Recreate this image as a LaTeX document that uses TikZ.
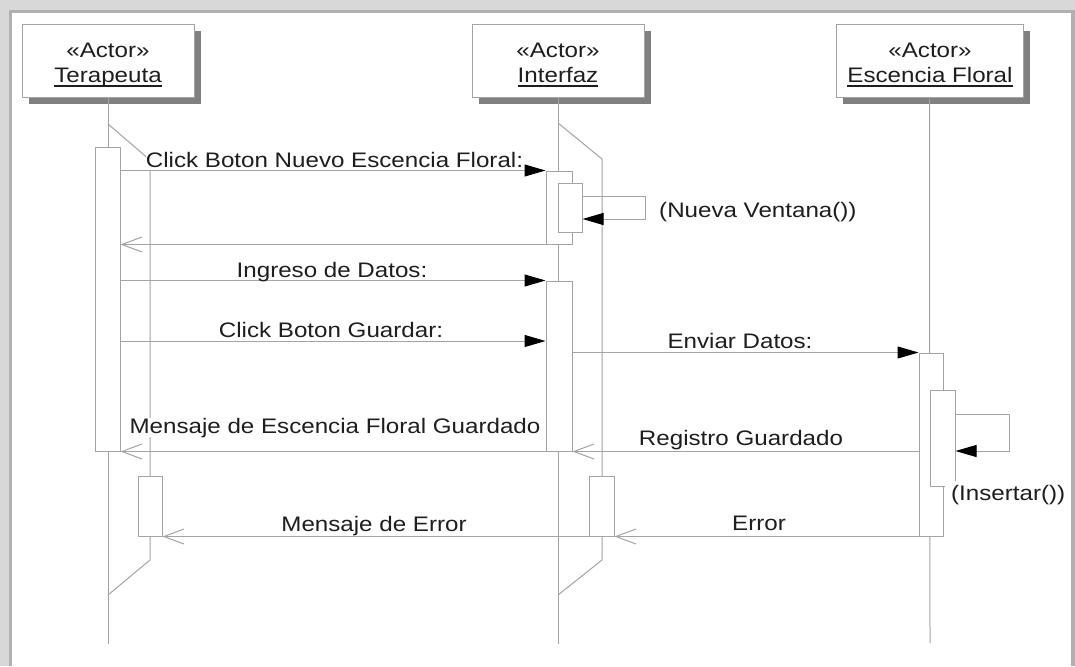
\documentclass[tikz,border=0pt]{standalone}
\usepackage{fontspec}
\setmainfont{Liberation Sans}[FakeStretch=1.15]
\usetikzlibrary{arrows.meta,shadows,calc}
\definecolor{linec}{HTML}{A4A4A4}
\definecolor{txtc}{HTML}{1E1E1E}
\definecolor{framea}{HTML}{D8D8D8}
\definecolor{frameb}{HTML}{B0B0B0}
\begin{document}
\begin{tikzpicture}[x=1pt,y=-1pt,
  every node/.style={font=\fontsize{21}{24}\selectfont, text=txtc},
  actorbox/.style={draw=linec, fill=white, line width=1pt, minimum height=73pt, inner sep=0pt,
    drop shadow={shadow xshift=7pt, shadow yshift=-6pt, fill=black!50, opacity=1}},
  actbox/.style={draw=linec, fill=white, line width=1pt, inner sep=0pt},
  lline/.style={draw=linec, line width=1pt},
  callmsg/.style={draw=linec, line width=1pt, -{Triangle[length=21pt,width=12pt,color=black]}},
  retmsg/.style={draw=linec, line width=1pt, -{Straight Barb[length=20pt,width=15pt]}},
  lbl/.style={inner sep=0pt, anchor=base},
  masklbl/.style={lbl, fill=white},
  uline/.style={draw=txtc, line width=1.2pt},
]
\useasboundingbox (0,0) rectangle (1075,666);
% frame
\fill[white] (0,0) rectangle (1075,666);
\fill[framea] (0,0) rectangle (1075,10);
\fill[frameb] (9,10) rectangle (1071,13);
\fill[framea] (0,0) rectangle (9,666);
\fill[frameb] (9,10) rectangle (12,666);
\fill[frameb] (1071,10) rectangle (1075,666);

% actor boxes
\node[actorbox, minimum width=172pt] (boxT) at (108,61.5) {};
\node[lbl] (stT) at (108,58) {«Actor»};
\node[lbl] (nT) at (108,82.5) {Terapeuta};
\draw[uline] ([yshift=-3.5pt]nT.base west) -- ([yshift=-3.5pt]nT.base east);

\node[actorbox, minimum width=172pt] (boxI) at (558,61.5) {};
\node[lbl] (stI) at (558,58) {«Actor»};
\node[lbl] (nI) at (558,82.5) {Interfaz};
\draw[uline] ([yshift=-3.5pt]nI.base west) -- ([yshift=-3.5pt]nI.base east);

\node[actorbox, minimum width=187pt] (boxE) at (929.5,61.5) {};
\node[lbl] (stE) at (930,58) {«Actor»};
\node[lbl] (nE) at (930,82.5) {Escencia Floral};
\draw[uline] ([yshift=-3.5pt]nE.base west) -- ([yshift=-3.5pt]nE.base east);

% lifelines
\coordinate (endT) at (108,644);
\coordinate (endI) at (558,644);
\coordinate (endE) at (930,643);
\draw[lline] (boxT.south) -- (endT);
\draw[lline] (boxI.south) -- (endI);
\draw[lline] (boxE.south) -- (endE);
\draw[lline] (108,124) -- (150,160) -- (150,560) -- (108,595);
\draw[lline] (558,123) -- (602,159) -- (602,560) -- (558,595);

% activations
\node[actbox, minimum width=25pt, minimum height=304pt] (actT) at (107.5,299) {};
\node[actbox, minimum width=24pt, minimum height=60pt] (actT2) at (150,506) {};
\node[actbox, minimum width=26pt, minimum height=73pt] (actI1) at (559,207.5) {};
\node[actbox, minimum width=24pt, minimum height=49pt] (actI1n) at (570,207.5) {};
\node[actbox, minimum width=26pt, minimum height=170pt] (actI2) at (559,366) {};
\node[actbox, minimum width=25pt, minimum height=60pt] (actI3) at (601.5,506) {};
\node[actbox, minimum width=24pt, minimum height=183pt] (actE) at (931,444.5) {};
\node[actbox, minimum width=25pt, minimum height=96pt] (actEn) at (942.5,438) {};

% messages
\coordinate (m4) at (0,341);
\coordinate (sI1) at (645,196);
\coordinate (sI2) at (645,219);
\coordinate (sE1) at (1009,414);
\coordinate (sE2) at (1009,451);
\draw[callmsg] (actT.east |- actI1.north west) -- (actI1.north west);
\draw[callmsg] (actI1n.east |- sI1) -- (sI1) -- (sI2) -- (actI1n.east |- sI2);
\draw[retmsg] (actI1.south west) -- (actT.east |- actI1.south west);
\draw[callmsg] (actT.east |- actI2.north west) -- (actI2.north west);
\draw[callmsg] (actT.east |- m4) -- (actI2.west |- m4);
\draw[callmsg] (actI2.east |- actE.north west) -- (actE.north west);
\draw[callmsg] (actEn.east |- sE1) -- (sE1) -- (sE2) -- (actEn.east |- sE2);
\draw[retmsg] (actE.west |- actI2.south east) -- (actI2.south east);
\draw[retmsg] (actI2.south west) -- (actT.south east);
\draw[retmsg] (actE.south west) -- (actI3.south east);
\draw[retmsg] (actI3.south west) -- (actT2.south east);

% labels
\node[masklbl, text depth=3.3pt] (l1) at (334.5,167) {Click Boton Nuevo Escencia Floral:};
\node[lbl, anchor=base west] (l2) at (659,217) {(Nueva Ventana())};
\node[lbl] (l3) at (332,277) {Ingreso de Datos:};
\node[lbl] (l4) at (331,337) {Click Boton Guardar:};
\node[lbl] (l5) at (740,348) {Enviar Datos:};
\node[masklbl] (l6) at (335,433) {Mensaje de Escencia Floral Guardado};
\node[lbl] (l7) at (741,445) {Registro Guardado};
\node[masklbl, anchor=base west, inner xsep=0pt, inner ysep=4pt, text width=120pt, align=right] (l8) at (945,500) {(Insertar())};
\node[lbl] (l9) at (374,531) {Mensaje de Error};
\node[lbl] (l10) at (759,530) {Error};
\end{tikzpicture}
\end{document}
